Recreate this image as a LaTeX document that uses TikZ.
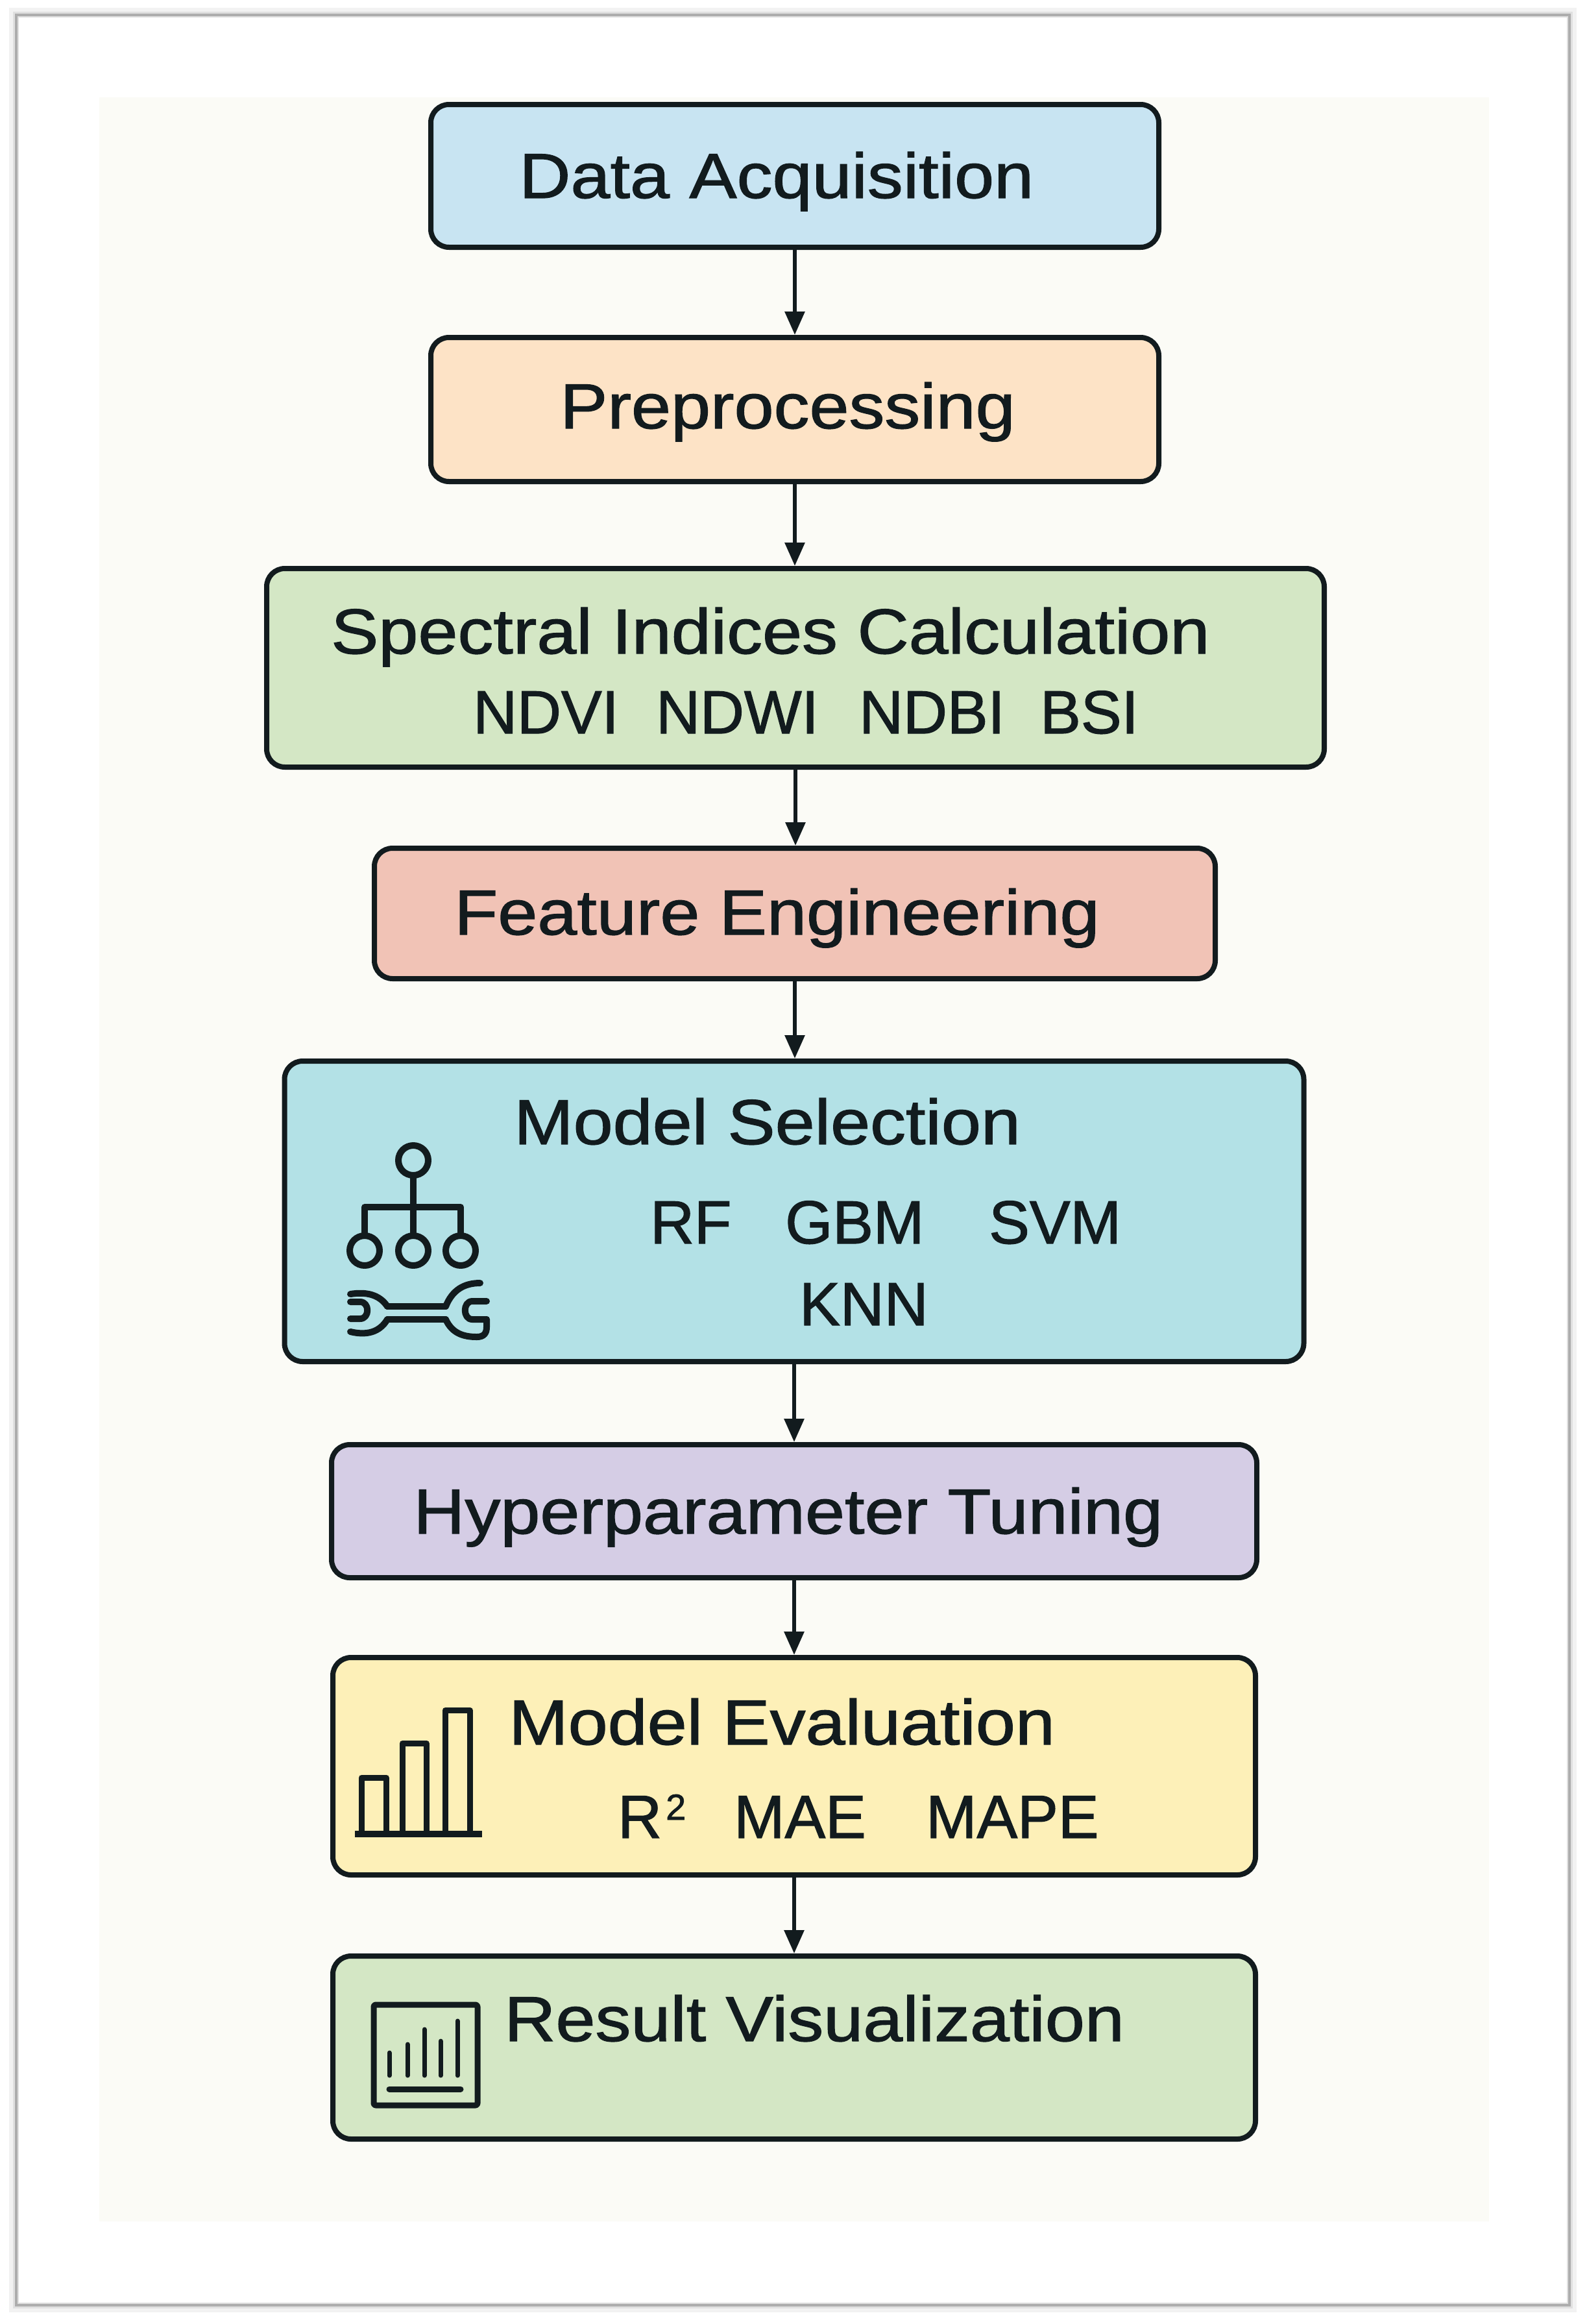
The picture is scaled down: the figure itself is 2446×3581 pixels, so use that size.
\documentclass[tikz,border=0pt]{standalone}
\usepackage{fontspec}
\setmainfont{Liberation Sans}[FakeStretch=1.12, FakeBold=1.3]
\newfontfamily\subfont{Liberation Sans}[FakeStretch=1.0, FakeBold=1.3]
\usetikzlibrary{arrows.meta}
\definecolor{ink}{HTML}{121B1E}
\definecolor{paper}{HTML}{FBFBF6}
\definecolor{cBlue}{HTML}{C8E4F2}
\definecolor{cPeach}{HTML}{FDE3C6}
\definecolor{cGreen}{HTML}{D4E7C5}
\definecolor{cSalmon}{HTML}{F1C3B6}
\definecolor{cTeal}{HTML}{B3E1E6}
\definecolor{cLav}{HTML}{D5CDE5}
\definecolor{cYellow}{HTML}{FDF0B8}
\tikzset{
  box/.style={draw=ink, line width=8pt, rounded corners=28pt, inner sep=0pt},
  txt/.style={inner sep=0pt, anchor=base west, text=ink, font=\fontsize{98}{110}\selectfont},
  subtxt/.style={txt, font=\subfont\fontsize{94}{100}\selectfont},
  flow/.style={draw=ink, line width=6pt, -{Triangle[length=36pt,width=30pt]}},
  icon/.style={draw=ink, line width=10pt, line cap=round, line join=round},
  thinicon/.style={draw=ink, line width=7pt, line cap=round}
}
\begin{document}
\begin{tikzpicture}[x=1pt,y=-1pt]
\useasboundingbox (0,0) rectangle (2446,3581);
\fill[white] (0,0) rectangle (2446,3581);
% frame
\draw[black!5, line width=22pt] (25,23) rectangle (2419,3552);
\draw[black!12, line width=10pt] (25,23) rectangle (2419,3552);
\draw[black!32, line width=4pt] (25,23) rectangle (2419,3552);
\fill[white] (29,27) rectangle (2415,3548);
\fill[paper] (153,150) rectangle (2295,3423);

% boxes
\node[box, fill=cBlue,   minimum width=1122pt, minimum height=220pt] (b1) at (1225,271) {};
\node[box, fill=cPeach,  minimum width=1122pt, minimum height=222pt] (b2) at (1225,631) {};
\node[box, fill=cGreen,  minimum width=1630pt, minimum height=306pt] (b3) at (1226,1029) {};
\node[box, fill=cSalmon, minimum width=1296pt, minimum height=201pt] (b4) at (1225,1407.5) {};
\node[box, fill=cTeal,   minimum width=1571pt, minimum height=463pt] (b5) at (1224,1866.5) {};
\node[box, fill=cLav,    minimum width=1426pt, minimum height=205pt] (b6) at (1224,2328.5) {};
\node[box, fill=cYellow, minimum width=1422pt, minimum height=335pt] (b7) at (1224,2721.5) {};
\node[box, fill=cGreen,  minimum width=1422pt, minimum height=282pt] (b8) at (1224,3155) {};

% arrows
\draw[flow] (b1.south) -- (b1.south |- b2.north);
\draw[flow] (b2.south) -- (b2.south |- b3.north);
\draw[flow] (b3.south) -- (b3.south |- b4.north);
\draw[flow] (b4.south) -- (b4.south |- b5.north);
\draw[flow] (b5.south) -- (b5.south |- b6.north);
\draw[flow] (b6.south) -- (b6.south |- b7.north);
\draw[flow] (b7.south) -- (b7.south |- b8.north);

% texts
\node[txt] (t1) at (800,305) {Data Acquisition};
\node[txt] (t2) at (863,660) {Preprocessing};
\node[txt] (t3) at (510,1007) {Spectral Indices Calculation};
\node[subtxt] (s31) at (729,1130) {NDVI};
\node[subtxt] (s32) at (1011,1130) {NDWI};
\node[subtxt] (s33) at (1324,1130) {NDBI};
\node[subtxt] (s34) at (1603,1130) {BSI};
\node[txt] (t4) at (700,1440) {Feature Engineering};
\node[txt] (t5) at (792,1763) {Model Selection};
\node[subtxt] (s51) at (1002,1916) {RF};
\node[subtxt] (s52) at (1210,1916) {GBM};
\node[subtxt] (s53) at (1524,1916) {SVM};
\node[subtxt] (s54) at (1232,2042) {KNN};
\node[txt] (t6) at (637,2363) {Hyperparameter Tuning};
\node[txt] (t7) at (784,2688) {Model Evaluation};
\node[subtxt] (s71) at (952,2832) {R\hspace{6pt}\raisebox{28pt}{\fontsize{56}{60}\selectfont 2}};
\node[subtxt] (s72) at (1131,2832) {MAE};
\node[subtxt] (s73) at (1427,2832) {MAPE};
\node[txt] (t8) at (777,3145) {Result Visualization};

% icon: model selection (hierarchy + wrench)
\draw[icon] (637,1788) circle (23);
\draw[icon] (637,1811) -- (637,1904);
\draw[icon] (562,1904) -- (562,1860) -- (710,1860) -- (710,1904);
\draw[icon] (562,1927) circle (23);
\draw[icon] (637,1927) circle (23);
\draw[icon] (710,1927) circle (23);
% wrench shaft
\draw[icon] (597,2013) -- (687,2013);
\draw[icon] (597,2033) -- (687,2033);
% wrench left head
\draw[icon] (597,2013) .. controls (585,1995) and (565,1990) .. (540,1994);
\draw[icon] (540,2006) -- (555,2006) .. controls (570,2006) and (570,2032) .. (555,2032) -- (540,2032);
\draw[icon] (597,2033) .. controls (585,2053) and (565,2058) .. (540,2052);
% wrench right head
\draw[icon] (687,2013) .. controls (697,1988) and (715,1977) .. (740,1977);
\draw[icon] (750,2005) -- (728,2005) .. controls (713,2005) and (713,2033) .. (728,2033) -- (750,2033);
\draw[icon] (687,2033) .. controls (697,2055) and (715,2060) .. (735,2060) .. controls (746,2060) and (750,2054) .. (750,2045) -- (750,2033);

% icon: bar chart
\draw[icon, line width=9pt, line cap=butt] (557,2826) -- (557,2739) -- (595,2739) -- (595,2826);
\draw[icon, line width=9pt, line cap=butt] (620,2826) -- (620,2686) -- (657,2686) -- (657,2826);
\draw[icon, line width=9pt, line cap=butt] (686,2826) -- (686,2635) -- (724,2635) -- (724,2826);
\draw[icon, line width=10pt, line cap=butt] (547,2826) -- (743,2826);

% icon: result visualization
\draw[icon, line width=9pt, rounded corners=3pt] (576,3089) rectangle (736,3244);
\draw[thinicon] (600,3198) -- (600,3163);
\draw[thinicon] (628,3198) -- (628,3150);
\draw[thinicon] (654,3198) -- (654,3127);
\draw[thinicon] (679,3198) -- (679,3145);
\draw[thinicon] (705,3198) -- (705,3114);
\draw[thinicon, line width=9pt] (600,3219) -- (710,3219);
\end{tikzpicture}
\end{document}
